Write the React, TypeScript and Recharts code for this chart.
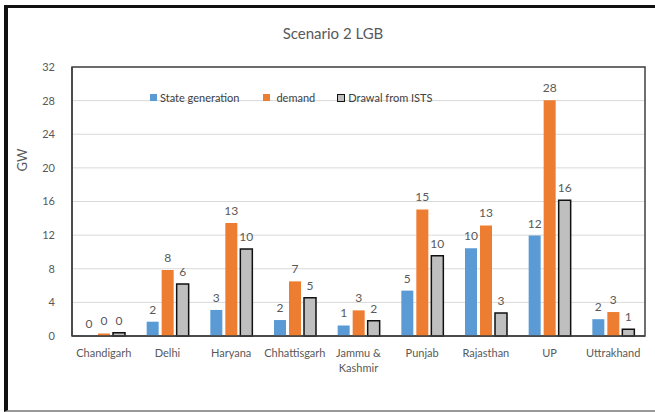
import React from 'react';
import { BarChart, Bar, XAxis, YAxis, CartesianGrid, LabelList, Legend, ReferenceArea } from 'recharts';

const categories = ['Chandigarh', 'Delhi', 'Haryana', 'Chhattisgarh', 'Jammu & Kashmir', 'Punjab', 'Rajasthan', 'UP', 'Uttrakhand'];
const stateGeneration = [0.05, 1.7, 3.1, 1.9, 1.25, 5.4, 10.45, 11.95, 2.0];
const demand = [0.3, 7.85, 13.45, 6.5, 3.05, 15.05, 13.15, 28.05, 2.85];
const drawalFromISTS = [0.4, 6.2, 10.35, 4.55, 1.8, 9.55, 2.75, 16.15, 0.8];
const yTicks = [0, 4, 8, 12, 16, 20, 24, 28, 32];
const seriesNames = ['State generation', 'demand', 'Drawal from ISTS'];
const title = 'Scenario 2 LGB';
const yLabel = 'GW';

const data = categories.map((c, i) => ({
  name: c,
  gen: stateGeneration[i],
  demand: demand[i],
  drawal: drawalFromISTS[i],
}));

const FONT = 'Lato, "Open Sans", sans-serif';
const GRAY = '#595959';

const XTick = (props: any) => {
  const { x, y, payload } = props;
  const label: string = payload.value;
  const lines = label.includes(' & ') ? [label.slice(0, label.indexOf('&') + 1), label.slice(label.indexOf('&') + 2)] : [label];
  return (
    <text x={x} y={y} textAnchor="middle" fill={GRAY} fontSize={11} fontFamily={FONT}>
      {lines.map((l, i) => (
        <tspan key={i} x={x} dy={i === 0 ? 13 : 15}>{l}</tspan>
      ))}
    </text>
  );
};

const renderLegend = () => {
  const box = (bg: string, border?: string) => ({
    display: 'inline-block',
    width: border ? 6 : 7,
    height: border ? 6 : 7,
    background: bg,
    border: border ? `1.5px solid ${border}` : 'none',
    marginRight: 3,
  });
  return (
    <div style={{ display: 'flex', alignItems: 'center', fontSize: 11, lineHeight: '13px', color: '#404040', fontFamily: FONT, whiteSpace: 'nowrap' }}>
      <span style={box('#5B9BD5')} />
      <span style={{ marginRight: 24 }}>{seriesNames[0]}</span>
      <span style={{ ...box('#ED7D31'), marginRight: 6 }} />
      <span style={{ marginRight: 22 }}>{seriesNames[1]}</span>
      <span style={box('#BFBFBF', '#111')} />
      <span>{seriesNames[2]}</span>
    </div>
  );
};

const fmt = (v: any) => Math.round(Number(v));

export default function App() {
  return (
    <div style={{ position: 'absolute', left: 0, top: 0, width: 655, height: 412, background: '#fff', overflow: 'hidden' }}>
      <div style={{ position: 'absolute', left: 4, top: 5, width: 680, height: 402, borderLeft: '4px solid #111', borderTop: '3px solid #111', borderBottom: '2px solid #999' }} />
      <div style={{ position: 'absolute', left: 0, top: 24, width: 666, textAlign: 'center', fontFamily: FONT, fontSize: 15, color: GRAY }}>{title}</div>
      <div style={{ position: 'absolute', left: 22, top: 160, transform: 'translate(-50%, -50%) rotate(-90deg)', fontFamily: FONT, fontSize: 13, color: GRAY }}>{yLabel}</div>
      <BarChart
        width={655}
        height={412}
        data={data}
        margin={{ top: 54, right: 10, bottom: 0, left: 0 }}
        barSize={12}
        barGap={3}
        style={{ position: 'absolute', left: 0, top: 0 }}
      >
        <CartesianGrid vertical={false} stroke="#d9d9d9" strokeWidth={1} />
        <ReferenceArea y1={0} y2={32} fill="none" stroke="#404040" strokeWidth={1.5} fillOpacity={0} />
        <XAxis
          dataKey="name"
          tick={<XTick />}
          tickLine={false}
          axisLine={{ stroke: '#404040', strokeWidth: 1.5 }}
          interval={0}
          height={76}
        />
        <YAxis
          domain={[0, 32]}
          ticks={yTicks}
          width={72}
          tickLine={false}
          tickSize={0}
          tickMargin={17}
          axisLine={{ stroke: '#404040', strokeWidth: 1.5 }}
          tick={{ fill: GRAY, fontSize: 11, fontFamily: FONT }}
        />
        <Legend
          content={renderLegend}
          verticalAlign="top"
          wrapperStyle={{ position: 'absolute', top: 91, left: 150, width: 'auto' }}
        />
        <Bar dataKey="gen" name={seriesNames[0]} fill="#5B9BD5" isAnimationActive={false}>
          <LabelList dataKey="gen" position="top" offset={8} formatter={fmt} fill={GRAY} fontSize={12} fontFamily={FONT} />
        </Bar>
        <Bar dataKey="demand" name={seriesNames[1]} fill="#ED7D31" isAnimationActive={false}>
          <LabelList dataKey="demand" position="top" offset={8} formatter={fmt} fill={GRAY} fontSize={12} fontFamily={FONT} />
        </Bar>
        <Bar dataKey="drawal" name={seriesNames[2]} fill="#BFBFBF" stroke="#111" strokeWidth={1.5} isAnimationActive={false}>
          <LabelList dataKey="drawal" position="top" offset={8} formatter={fmt} fill={GRAY} fontSize={12} fontFamily={FONT} stroke="none" />
        </Bar>
      </BarChart>
    </div>
  );
}
